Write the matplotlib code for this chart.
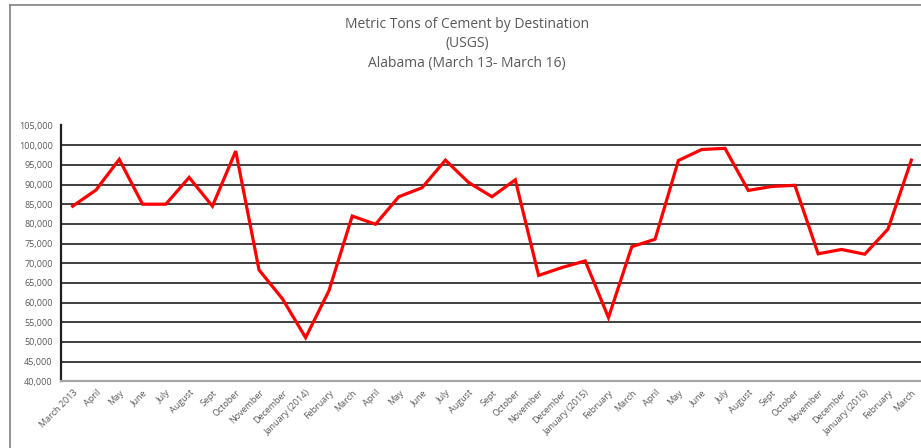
import matplotlib
matplotlib.use("Agg")
import matplotlib.pyplot as plt
from matplotlib.lines import Line2D
from matplotlib.ticker import FuncFormatter

#### Data

months = ["March 2013", "April", "May", "June", "July", "August", "Sept", "October",
          "November", "December", "January (2014)", "February", "March", "April", "May",
          "June", "July", "August", "Sept", "October", "November", "December",
          "January (2015)", "February", "March", "April", "May", "June", "July", "August",
          "Sept", "October", "November", "December", "January (2016)", "February", "March"]

tons = [84500, 88600, 96400, 85000, 85000, 91800, 84500, 98500,
        68300, 61000, 51100, 63000, 82000, 79900, 86900,
        89200, 96200, 90500, 86900, 91200, 66900, 68900,
        70600, 56200, 74200, 76100, 96100, 98900, 99200, 88500,
        89500, 89800, 72400, 73500, 72300, 78700, 96200]

yticks = list(range(40000, 105001, 5000))

plt.rcParams["font.family"] = ["Open Sans", "DejaVu Sans"]

fig = plt.figure(figsize=(9.21, 4.48), dpi=100)
W, H = 921, 448
ax = fig.add_axes([61 / W, 66.7 / H, 862 / W, 255.8 / H])

x = list(range(len(months)))
ax.plot(x, tons, color="red", lw=2.3, solid_joinstyle="miter", zorder=3)

ax.set_xlim(-0.5, len(months) - 0.5)
ax.set_ylim(40000, 105000)
ax.set_yticks(yticks)
ax.yaxis.set_major_formatter(FuncFormatter(lambda v, p: f"{int(v):,}"))
ax.set_xticks(x)
ax.set_xticklabels(months, rotation=45, ha="right", rotation_mode="anchor")
ax.tick_params(axis="both", length=0, labelsize=6.5, labelcolor="#595959")
ax.tick_params(axis="x", pad=5)
ax.tick_params(axis="y", pad=6)

for v in yticks[1:]:
    ax.axhline(v, color="#303030", lw=1.3, zorder=1)

for s in ["top", "right"]:
    ax.spines[s].set_visible(False)
ax.spines["left"].set_color("#202020")
ax.spines["left"].set_linewidth(1.6)
ax.spines["bottom"].set_color("#a6a6a6")
ax.spines["bottom"].set_linewidth(1.6)

# chart border (only top and left show)
fig.add_artist(Line2D([10 / W, 1], [1 - 5 / H, 1 - 5 / H], color="#808080", lw=1.2))
fig.add_artist(Line2D([10 / W, 10 / W], [0, 1 - 5 / H], color="#808080", lw=1.2))

fig.text(467 / W, 1 - 44 / H, "Metric Tons of Cement by Destination\n(USGS)\nAlabama (March 13- March 16)",
         ha="center", va="center", fontsize=10, color="#595959", linespacing=1.45)

fig.savefig("out.png", dpi=100)
